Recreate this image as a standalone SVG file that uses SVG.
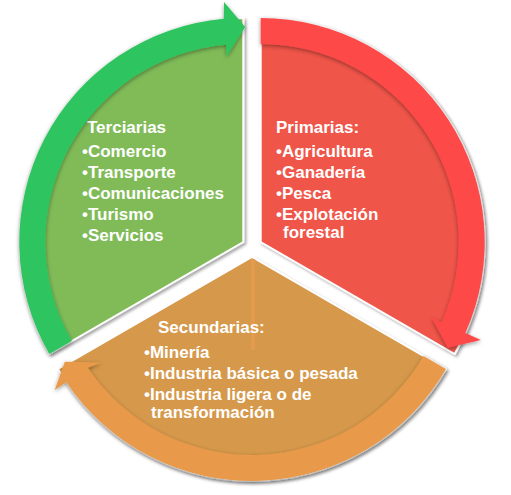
<svg xmlns="http://www.w3.org/2000/svg" width="511" height="495" viewBox="0 0 511 495">
  <defs>
    <filter id="sh" x="-10%" y="-10%" width="120%" height="120%">
      <feDropShadow dx="2" dy="2" stdDeviation="1.5" flood-color="#000" flood-opacity="0.35"/>
    </filter>
    <filter id="ash" x="-10%" y="-10%" width="120%" height="120%">
      <feDropShadow dx="0" dy="1.5" stdDeviation="2" flood-color="#000" flood-opacity="0.4"/>
    </filter>
  </defs>
  <style>
    .sector { stroke: #ffffff; stroke-width: 2; stroke-linejoin: round; filter: url(#sh); }
    .arrow { stroke: none; filter: url(#ash); }
    .t { font-family: "Liberation Sans", Arial, sans-serif; font-size: 17px; font-weight: bold; fill: #ffffff; }
  </style>
  <rect width="511" height="495" fill="#ffffff"/>

  <g id="node-terciarias">
    <path class="sector" fill="#80BB58" d="M 243.3 242 L 49.31 354 A 224 224 0 0 1 243.3 18 Z"/>
    <text class="t" x="87" y="133">Terciarias</text>
    <text class="t" x="82" y="157">•Comercio</text>
    <text class="t" x="82" y="178">•Transporte</text>
    <text class="t" x="82" y="199">•Comunicaciones</text>
    <text class="t" x="82" y="220">•Turismo</text>
    <text class="t" x="82" y="241">•Servicios</text>
  </g>

  <g id="node-primarias">
    <path class="sector" fill="#F0554A" d="M 260.7 242 L 260.7 18 A 224 224 0 0 1 454.69 354 Z"/>
    <text class="t" x="276" y="133">Primarias:</text>
    <text class="t" x="276" y="157">•Agricultura</text>
    <text class="t" x="276" y="178">•Ganadería</text>
    <text class="t" x="276" y="199">•Pesca</text>
    <text class="t" x="276" y="220">•Explotación</text>
    <text class="t" x="283" y="238">forestal</text>
  </g>

  <g id="node-secundarias">
    <path class="sector" fill="#D6994B" d="M 252 257 L 445.99 369 A 224 224 0 0 1 58.01 369 Z"/>
    <rect x="251" y="259" width="4" height="91" fill="#E39C4E"/>
    <text class="t" x="158" y="333">Secundarias:</text>
    <text class="t" x="144" y="358">•Minería</text>
    <text class="t" x="144" y="379">•Industria básica o pesada</text>
    <text class="t" x="144" y="400">•Industria ligera o de</text>
    <text class="t" x="151" y="418">transformación</text>
  </g>

  <g id="connectors">
    <path class="arrow" fill="#2FC45E" d="M 49.31 354 A 224 224 0 0 1 223.78 18.85 L 224 2 L 245.2 27 L 226.5 56.5 L 226.04 44.75 A 198 198 0 0 0 71.83 341 Z"/>
    <path class="arrow" fill="#FE4848" d="M 260.7 18 A 224 224 0 0 1 465.33 333.11 L 480.87 340.02 L 447.83 347.87 L 431.5 317.5 L 441.58 322.53 A 198 198 0 0 0 260.7 44 Z"/>
    <path class="arrow" fill="#E8994A" d="M 445.99 369 A 224 224 0 0 1 66.30 382.26 L 54.69 390.09 L 64.85 361.81 L 101.28 362.54 L 87.85 367.72 A 198 198 0 0 0 423.47 356 Z"/>
  </g>
</svg>
